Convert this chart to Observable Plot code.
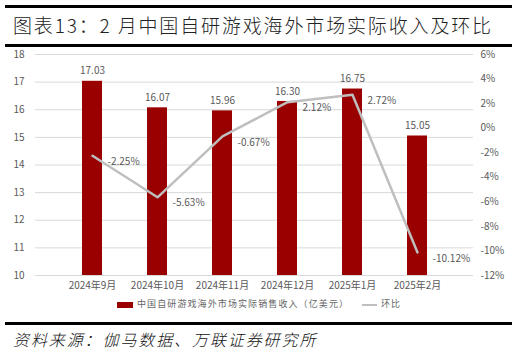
<!DOCTYPE html>
<html>
<head>
<meta charset="utf-8">
<script src="https://cdn.jsdelivr.net/npm/d3@7"></script>
<script src="https://cdn.jsdelivr.net/npm/@observablehq/plot@0.6"></script>
<style>
  body { margin: 0; background: #fff; width: 517px; height: 356px; overflow: hidden; font-family: "Noto Sans CJK SC", sans-serif; }
  .rule { position: absolute; left: 5px; width: 507px; background: #000; }
  #title { position: absolute; left: 13px; top: 11px; font-size: 19px; color: #222; letter-spacing: 1.85px; white-space: nowrap; font-weight: 300; }
  #chart { position: absolute; left: 0; top: 47px; }
  #legend { position: absolute; top: 297px; left: 0; width: 517px; font-size: 9px; color: #666; }
  #source { position: absolute; left: 13px; top: 327px; font-size: 16px; font-style: italic; color: #111; letter-spacing: 1.9px; white-space: nowrap; font-weight: 300; }
</style>
</head>
<body>
<div class="rule" style="top:5px;height:3px"></div>
<div id="title">图表13：2 月中国自研游戏海外市场实际收入及环比</div>
<div class="rule" style="top:44px;height:3px"></div>
<div id="chart"></div>
<div id="legend">
  <span style="position:absolute;left:117px;top:5px;width:16px;height:6px;background:#990000"></span>
  <span style="position:absolute;left:137px;top:0px;letter-spacing:1.1px;white-space:nowrap">中国自研游戏海外市场实际销售收入（亿美元）</span>
  <span style="position:absolute;left:362px;top:7px;width:15px;height:2px;background:#bfbfbf"></span>
  <span style="position:absolute;left:381px;top:0px;letter-spacing:1px">环比</span>
</div>
<div class="rule" style="top:322px;height:3px"></div>
<div id="source">资料来源：伽马数据、万联证券研究所</div>
<script>
const months = ["2024年9月", "2024年10月", "2024年11月", "2024年12月", "2025年1月", "2025年2月"];
const revenue = [17.03, 16.07, 15.96, 16.30, 16.75, 15.05];
const momPct = [-2.25, -5.63, -0.67, 2.12, 2.72, -10.12];
const leftTicks = [10, 11, 12, 13, 14, 15, 16, 17, 18];
const rightTicks = [-12, -10, -8, -6, -4, -2, 0, 2, 4, 6];

const yMin = 10, yMax = 18, pMin = -12, pMax = 6;
const toY = p => yMin + (p - pMin) / (pMax - pMin) * (yMax - yMin);
const toP = y => (y - yMin) / (yMax - yMin) * (pMax - pMin) + pMin;

const bars = months.map((m, i) => ({month: m, value: revenue[i]}));
const line = months.map((m, i) => ({month: m, pct: momPct[i], y: toY(momPct[i])}));

const textColor = "#595959";
const chart = Plot.plot({
  width: 517,
  height: 250,
  marginLeft: 35,
  marginRight: 44,
  marginTop: 7,
  marginBottom: 22,
  style: {fontFamily: "'Noto Sans CJK SC', sans-serif", fontSize: "10px", color: textColor, background: "transparent"},
  x: {domain: months, padding: 0.7, label: null},
  y: {domain: [yMin, yMax], label: null},
  marks: [
    Plot.gridY(leftTicks, {stroke: "#d9d9d9", strokeOpacity: 1, strokeWidth: 1}),
    Plot.axisY(leftTicks, {anchor: "left", tickSize: 0, tickPadding: 11, label: null, fill: textColor, tickFormat: d => String(d)}),
    Plot.axisY(rightTicks.map(toY), {anchor: "right", tickSize: 0, tickPadding: 7, label: null, fill: textColor, textAnchor: "start",
      tickFormat: y => Math.round(toP(y)) + "%"}),
    Plot.axisX({tickSize: 0, tickPadding: 6, label: null, fill: textColor}),
    Plot.barY(bars, {x: "month", y1: yMin, y2: "value", fill: "#990000"}),
    Plot.text(bars, {x: "month", y: "value", text: d => d.value.toFixed(2), dy: -10, fill: textColor, fontSize: 10}),
    Plot.line(line, {x: "month", y: "y", stroke: "#bfbfbf", strokeWidth: 2.5}),
    Plot.text(line, {x: "month", y: "y", text: d => d.pct.toFixed(2) + "%", textAnchor: "start", dx: 15, dy: 6, fill: textColor, fontSize: 10})
  ]
});
document.getElementById("chart").appendChild(chart);
</script>
</body>
</html>
